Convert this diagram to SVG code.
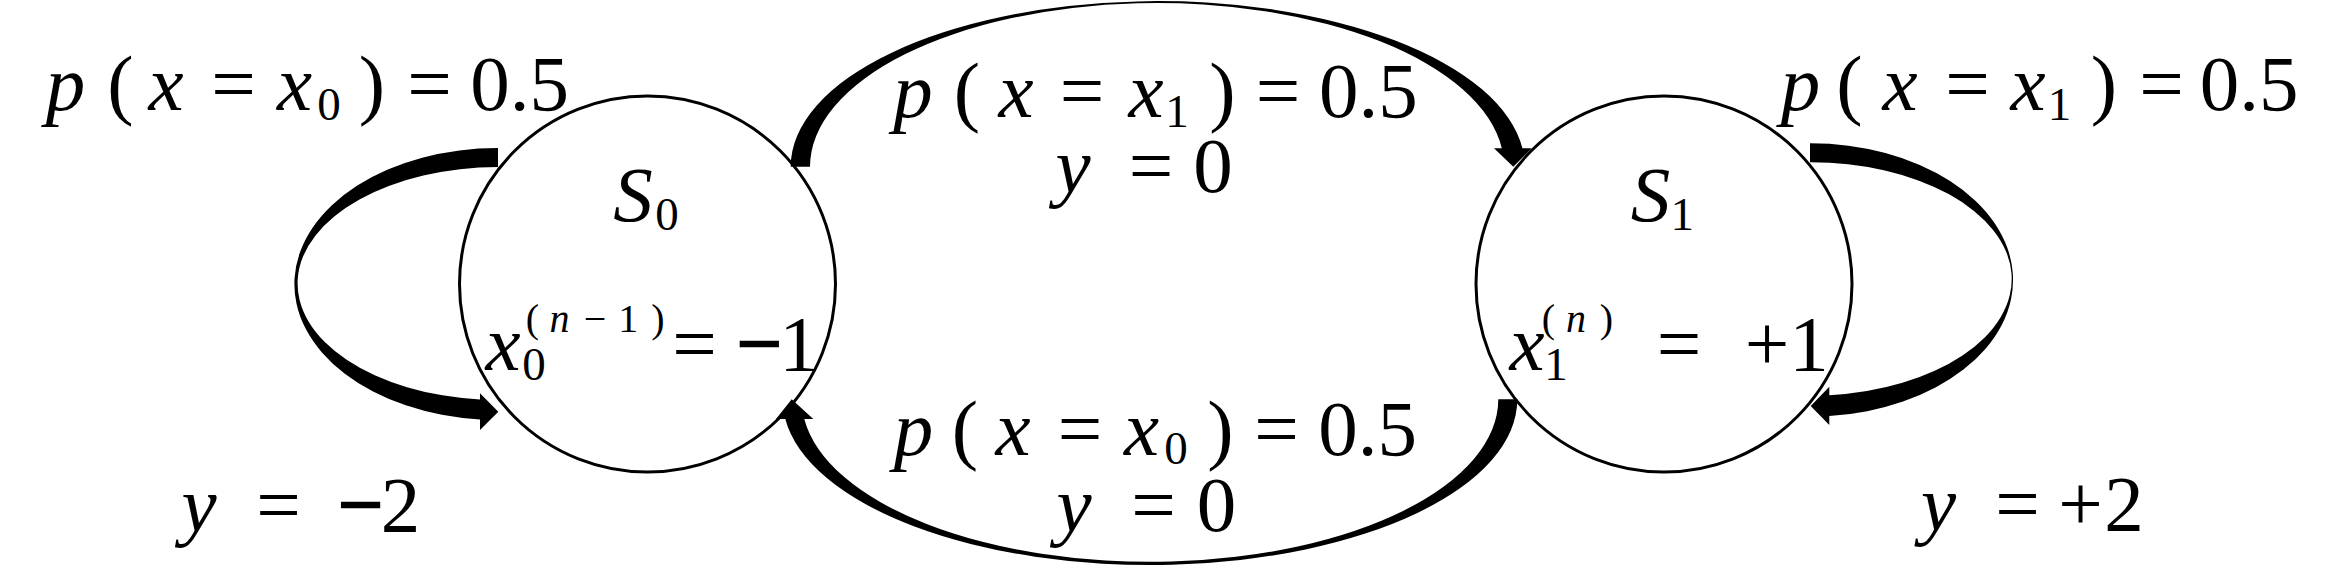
<svg xmlns="http://www.w3.org/2000/svg" width="2348" height="588" viewBox="0 0 2348 588">
<style>
text{font-family:'Liberation Serif','Times New Roman',serif;font-size:79px;fill:#000;text-anchor:middle}
.i{font-style:italic}
.s{font-size:47px}
.u{font-size:40px}
.m{stroke:#000;stroke-width:2.5}
.node{fill:none;stroke:#000;stroke-width:3}
.arr{fill:#000;stroke:none}
</style>
<rect width="2348" height="588" fill="#fff"/>
<g id="connectors">
<path id="loop-s0" class="arr" d="M498,148 A203,136 0 0,0 480,419.5 L480,430 L498.3,411.7 L480,393.3 L480,399.5 A201,116.5 0 0,1 498,167 Z"/>
<path id="loop-s1" class="arr" d="M1810,143.3 A202.7,136.7 0 0,1 1829.3,416.1 L1829.3,425 L1810.7,406 L1829.3,386.7 L1829.3,395.2 A201,116.7 0 0,0 1810,162.3 Z"/>
<path id="s0-s1" class="arr" d="M790.7,166.7 A367,165.7 0 0,1 1522.4,148.3 L1531.7,148.3 L1513.3,166.7 L1494,148.3 L1501.8,148.3 A347,163.7 0 0,0 810,166.7 Z"/>
<path id="s1-s0" class="arr" d="M1517.3,399.3 A367.3,165.7 0 0,1 785.3,419 L776,419 L791.7,399.3 L813.3,419 L804.3,419 A348.3,162.7 0 0,0 1498.3,399.3 Z"/>
</g>
<g id="labels">
<text><tspan class="i" x="65.5" y="110">p</tspan><tspan x="120.5" y="110">(</tspan><tspan class="i" x="166" y="110">x</tspan><tspan x="233.5" y="110">=</tspan><tspan class="i" x="294.5" y="110">x</tspan><tspan class="s" x="329" y="120">0</tspan><tspan x="372" y="110">)</tspan><tspan x="429.5" y="110">=</tspan><tspan x="519.5" y="110">0.5</tspan></text>
<text><tspan class="i" x="199" y="531">y</tspan><tspan x="278.5" y="531">=</tspan><tspan class="m" x="360.5" y="531">−</tspan><tspan x="400.5" y="531">2</tspan></text>
<text><tspan class="i" x="913" y="117">p</tspan><tspan x="967" y="117">(</tspan><tspan class="i" x="1016" y="117">x</tspan><tspan x="1082" y="117">=</tspan><tspan class="i" x="1146" y="117">x</tspan><tspan class="s" x="1177" y="127">1</tspan><tspan x="1222.5" y="117">)</tspan><tspan x="1278" y="117">=</tspan><tspan x="1368.3" y="117">0.5</tspan></text>
<text><tspan class="i" x="1073" y="192">y</tspan><tspan x="1151" y="192">=</tspan><tspan x="1213" y="192">0</tspan></text>
<text><tspan class="i" x="913.5" y="455">p</tspan><tspan x="965" y="455">(</tspan><tspan class="i" x="1013" y="455">x</tspan><tspan x="1080" y="455">=</tspan><tspan class="i" x="1141.5" y="455">x</tspan><tspan class="s" x="1176" y="464">0</tspan><tspan x="1220.5" y="455">)</tspan><tspan x="1276.5" y="455">=</tspan><tspan x="1367.5" y="455">0.5</tspan></text>
<text><tspan class="i" x="1074" y="531">y</tspan><tspan x="1153.5" y="531">=</tspan><tspan x="1216.5" y="531">0</tspan></text>
<text><tspan class="i" x="1800.5" y="110">p</tspan><tspan x="1849.5" y="110">(</tspan><tspan class="i" x="1900" y="110">x</tspan><tspan x="1967.5" y="110">=</tspan><tspan class="i" x="2028" y="110">x</tspan><tspan class="s" x="2059.5" y="120">1</tspan><tspan x="2104" y="110">)</tspan><tspan x="2161.5" y="110">=</tspan><tspan x="2249" y="110">0.5</tspan></text>
<text><tspan class="i" x="1938.5" y="530">y</tspan><tspan x="2017.5" y="530">=</tspan><tspan x="2080.5" y="530">+</tspan><tspan x="2124" y="530">2</tspan></text>
</g>
<g id="S0">
<circle class="node" cx="647.5" cy="284" r="188"/>
<text><tspan class="i" x="633" y="221">S</tspan><tspan class="s" x="667" y="230">0</tspan></text>
<text><tspan class="i" x="503" y="370">x</tspan><tspan class="s" x="534" y="380">0</tspan><tspan class="u" x="532.5" y="332">(</tspan><tspan class="u i" x="559.5" y="332">n</tspan><tspan class="u" x="595" y="332">−</tspan><tspan class="u" x="628.3" y="332">1</tspan><tspan class="u" x="658" y="332">)</tspan><tspan x="694.5" y="370">=</tspan><tspan class="m" x="759.3" y="370">−</tspan><tspan x="799" y="370">1</tspan></text>
</g>
<g id="S1">
<circle class="node" cx="1664" cy="284" r="188"/>
<text><tspan class="i" x="1650.5" y="221">S</tspan><tspan class="s" x="1682.3" y="230">1</tspan></text>
<text><tspan class="i" x="1527" y="370">x</tspan><tspan class="s" x="1556" y="380">1</tspan><tspan class="u" x="1548.3" y="332">(</tspan><tspan class="u i" x="1576" y="332">n</tspan><tspan class="u" x="1606.5" y="332">)</tspan><tspan x="1679" y="370">=</tspan><tspan x="1767" y="370">+</tspan><tspan x="1809" y="370">1</tspan></text>
</g>
</svg>
